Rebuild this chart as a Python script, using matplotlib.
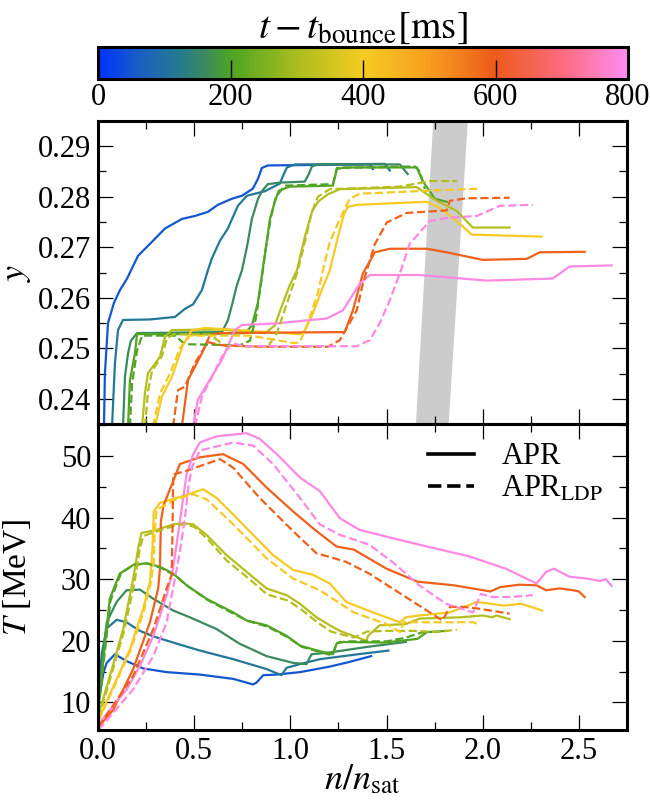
import numpy as np
import matplotlib
matplotlib.use("agg")
import matplotlib.pyplot as plt
from matplotlib.colors import LinearSegmentedColormap
from matplotlib.lines import Line2D
from matplotlib.ticker import MultipleLocator

plt.rcParams["font.family"] = "serif"
plt.rcParams["font.serif"] = ["Liberation Serif", "DejaVu Serif"]
plt.rcParams["mathtext.fontset"] = "stix"

# colormap for t - t_bounce [ms]
cmap_nodes = [0.0, 0.08, 0.15, 0.2, 0.25, 0.375, 0.5, 0.62, 0.75, 0.87, 1.0]
cmap_colors = ["#0033ff", "#1a60c0", "#257a90", "#3a8a60", "#4ea424",
               "#aabd1e", "#f5cc22", "#f7a020", "#ee5a1a", "#fb6a78",
               "#ff8cf0"]
t_max = 800.

# snapshot times [ms]
times = [50, 115, 160, 205, 315, 405, 590, 785]

# ---- top panel: y (APR, solid) ----
y_apr_050 = [(0.031, 0.2345), (0.036, 0.245), (0.052, 0.255), (0.083, 0.259),
             (0.114, 0.2615), (0.151, 0.2638), (0.208, 0.2683), (0.281, 0.2711),
             (0.348, 0.2737), (0.436, 0.2756), (0.504, 0.2762), (0.571, 0.277),
             (0.623, 0.2784), (0.696, 0.2796), (0.748, 0.2802), (0.805, 0.2816),
             (0.831, 0.2835), (0.852, 0.2857), (0.883, 0.2862), (1.413, 0.2864),
             (1.429, 0.2855)]
y_apr_115 = [(0.073, 0.2345), (0.088, 0.247), (0.104, 0.2536), (0.130, 0.2556),
             (0.270, 0.2557), (0.400, 0.2562), (0.452, 0.2578), (0.494, 0.2587),
             (0.540, 0.2615), (0.571, 0.2654), (0.592, 0.2678), (0.634, 0.2713),
             (0.675, 0.2737), (0.727, 0.2782), (0.774, 0.2802), (0.868, 0.2811),
             (0.945, 0.2826), (0.966, 0.2845), (0.982, 0.2858), (1.023, 0.2864),
             (1.491, 0.2865), (1.517, 0.2852)]
y_apr_160 = [(0.130, 0.2345), (0.140, 0.2443), (0.156, 0.249), (0.171, 0.2515),
             (0.203, 0.2530), (0.426, 0.2531), (0.644, 0.2532), (0.675, 0.2555),
             (0.696, 0.2585), (0.722, 0.2625), (0.748, 0.2654), (0.774, 0.2700),
             (0.800, 0.2756), (0.831, 0.2795), (0.852, 0.2811), (0.883, 0.2825),
             (0.945, 0.2828), (1.075, 0.2830), (1.096, 0.2845), (1.112, 0.2860),
             (1.143, 0.2864), (1.569, 0.2864), (1.610, 0.2845)]
y_apr_205 = [(0.156, 0.2345), (0.166, 0.2437), (0.192, 0.249), (0.203, 0.2528),
             (0.530, 0.2528), (0.764, 0.2530), (0.800, 0.2545), (0.831, 0.259),
             (0.852, 0.2645), (0.873, 0.2700), (0.894, 0.2756), (0.919, 0.2790),
             (0.940, 0.2812), (0.997, 0.2820), (1.221, 0.2822), (1.242, 0.2855),
             (1.283, 0.2858), (1.657, 0.2858), (1.688, 0.2831), (1.751, 0.2796),
             (1.813, 0.2790)]
y_apr_315 = [(0.229, 0.2345), (0.244, 0.2411), (0.260, 0.2451), (0.322, 0.2483),
             (0.348, 0.2522), (0.384, 0.2536), (0.634, 0.2537), (0.868, 0.2530),
             (0.919, 0.2545), (0.961, 0.2589), (0.997, 0.2625), (1.034, 0.2654),
             (1.075, 0.2720), (1.112, 0.2770), (1.143, 0.2790), (1.195, 0.2805),
             (1.257, 0.2815), (1.657, 0.2819), (1.761, 0.2792), (1.865, 0.2772),
             (1.948, 0.2739), (2.140, 0.2739)]
y_apr_405 = [(0.296, 0.2345), (0.332, 0.2404), (0.384, 0.2443), (0.441, 0.2506),
             (0.488, 0.2536), (0.556, 0.2540), (0.660, 0.2538), (0.842, 0.2533),
             (1.050, 0.2528), (1.075, 0.2535), (1.117, 0.2569), (1.169, 0.2621),
             (1.205, 0.2654), (1.247, 0.2720), (1.278, 0.2765), (1.299, 0.2780),
             (1.346, 0.2784), (1.709, 0.2790), (1.777, 0.2778), (1.855, 0.2755),
             (1.943, 0.2725), (2.306, 0.2721)]
y_apr_590 = [(0.436, 0.2345), (0.468, 0.2437), (0.540, 0.2490), (0.582, 0.2526),
             (0.634, 0.2530), (1.283, 0.2532), (1.325, 0.2575), (1.377, 0.2648),
             (1.439, 0.2690), (1.517, 0.2697), (1.709, 0.2697), (1.813, 0.2690),
             (2.000, 0.2675), (2.229, 0.2677), (2.296, 0.2690), (2.530, 0.2691)]
y_apr_785 = [(0.494, 0.2345), (0.519, 0.2398), (0.571, 0.2431), (0.644, 0.2477),
             (0.712, 0.2536), (0.748, 0.2546), (0.919, 0.2549), (1.190, 0.2559),
             (1.273, 0.2575), (1.361, 0.2628), (1.413, 0.2645), (1.673, 0.2645),
             (2.021, 0.2634), (2.364, 0.2638), (2.452, 0.2662), (2.670, 0.2664)]

# ---- top panel: y (APR_LDP, dashed) ----
y_ldp_205 = [(0.166, 0.2345), (0.177, 0.243), (0.203, 0.2495), (0.229, 0.2525),
             (0.400, 0.2525), (0.452, 0.2508), (0.738, 0.2506), (0.790, 0.2515),
             (0.821, 0.2560), (0.852, 0.2640), (0.873, 0.2700), (0.899, 0.2760),
             (0.925, 0.2800), (0.971, 0.2822), (1.221, 0.2825), (1.242, 0.2857),
             (1.647, 0.2860), (1.673, 0.2850), (1.699, 0.2815)]
y_ldp_315 = [(0.244, 0.2345), (0.260, 0.2415), (0.281, 0.2455), (0.333, 0.2485),
             (0.359, 0.2520), (0.395, 0.2528), (0.582, 0.2527), (0.660, 0.2505),
             (0.883, 0.2503), (0.930, 0.2530), (0.982, 0.2589), (1.039, 0.2654),
             (1.075, 0.2710), (1.112, 0.2770), (1.143, 0.2800), (1.205, 0.2815),
             (1.569, 0.2820), (1.725, 0.2831), (1.865, 0.2831)]
y_ldp_405 = [(0.286, 0.2345), (0.322, 0.2410), (0.374, 0.2450), (0.426, 0.2500),
             (0.478, 0.2525), (0.790, 0.2525), (1.023, 0.2510), (1.049, 0.2512),
             (1.091, 0.2550), (1.143, 0.2609), (1.169, 0.2654), (1.205, 0.2710),
             (1.257, 0.2756), (1.309, 0.2796), (1.361, 0.2806), (1.657, 0.2811),
             (1.974, 0.2816)]
y_ldp_590 = [(0.390, 0.2345), (0.416, 0.2417), (0.452, 0.2424), (0.504, 0.2471),
             (0.571, 0.2512), (0.644, 0.2506), (0.842, 0.2503), (1.195, 0.2503),
             (1.257, 0.2516), (1.345, 0.2575), (1.377, 0.2628), (1.439, 0.2706),
             (1.501, 0.2749), (1.605, 0.2768), (1.813, 0.2773), (1.829, 0.2792),
             (1.917, 0.2797), (2.140, 0.2798)]
y_ldp_785 = [(0.504, 0.2345), (0.540, 0.2404), (0.592, 0.2443), (0.644, 0.2483),
             (0.696, 0.2510), (0.764, 0.2504), (1.345, 0.2504), (1.413, 0.2516),
             (1.465, 0.2550), (1.517, 0.2595), (1.569, 0.2648), (1.621, 0.2707),
             (1.725, 0.2752), (1.813, 0.2758), (1.969, 0.2762), (2.088, 0.2782),
             (2.260, 0.2784)]

# ---- bottom panel: T [MeV] (APR, solid) ----
T_apr_050 = [(0.005, 10.4), (0.028, 14.8), (0.045, 16.4), (0.088, 17.8),
             (0.148, 16.7), (0.235, 15.5), (0.357, 14.9), (0.53, 14.5),
             (0.703, 13.8), (0.806, 12.9), (0.824, 13.2), (0.859, 14.4),
             (0.928, 14.5), (1.05, 14.9), (1.205, 15.8), (1.3, 16.5), (1.42, 17.5)]
T_apr_115 = [(0.003, 12), (0.02, 18), (0.045, 22.0), (0.097, 23.4),
             (0.148, 23.0), (0.218, 21.6), (0.288, 20.7), (0.391, 19.7),
             (0.53, 18.4), (0.703, 17.0), (0.876, 15.4), (0.954, 14.4),
             (0.98, 15.6), (1.05, 16.2), (1.153, 17.0), (1.35, 17.8), (1.51, 18.4)]
T_apr_160 = [(0.003, 11), (0.045, 23), (0.097, 26.3), (0.148, 28.2),
             (0.218, 28.3), (0.288, 26.8), (0.391, 24.9), (0.478, 23.8),
             (0.616, 21.9), (0.737, 19.5), (0.876, 17.5), (1.014, 16.4),
             (1.084, 16.2), (1.11, 17.8), (1.205, 18.1), (1.4, 19.0), (1.60, 19.8)]
T_apr_205 = [(0.003, 9.5), (0.061, 26.8), (0.113, 30.9), (0.183, 32.3),
             (0.252, 32.6), (0.322, 32.0), (0.391, 30.9), (0.461, 29.0),
             (0.564, 26.8), (0.703, 24.6), (0.772, 23.3), (0.876, 22.5),
             (0.98, 20.8), (1.05, 19.2), (1.153, 18.3), (1.22, 17.8),
             (1.24, 19.5), (1.257, 19.8), (1.49, 19.7), (1.66, 20.3),
             (1.71, 21.4), (1.81, 21.6)]
T_apr_315 = [(0.003, 8), (0.062, 14.3), (0.131, 21.9), (0.183, 30.1),
             (0.209, 35.0), (0.226, 37.5), (0.304, 38.0), (0.391, 38.9),
             (0.443, 39.1), (0.495, 38.9), (0.564, 37.2), (0.668, 33.9),
             (0.772, 31.2), (0.876, 28.5), (0.98, 27.4), (1.05, 26.0),
             (1.136, 23.8), (1.205, 22.5), (1.257, 21.6), (1.395, 20.0),
             (1.404, 20.8), (1.464, 22.5), (1.60, 22.7), (1.672, 23.6),
             (1.88, 23.8), (2.0, 24.1), (2.05, 23.8), (2.07, 24.1), (2.14, 23.5)]
T_apr_405 = [(0.003, 7.2), (0.08, 12.6), (0.166, 18.6), (0.235, 25.2),
             (0.27, 29.6), (0.283, 35), (0.29, 41), (0.322, 42.4),
             (0.443, 43.5), (0.547, 44.6), (0.616, 43.2), (0.703, 40.5),
             (0.806, 37.2), (0.91, 33.9), (1.014, 31.5), (1.118, 30.7),
             (1.205, 29.3), (1.29, 26.3), (1.43, 24.6), (1.57, 23.0),
             (1.60, 23.8), (1.67, 24.1), (1.83, 24.6), (1.97, 26.3),
             (2.11, 25.7), (2.20, 26.0), (2.31, 24.9)]
T_apr_590 = [(0.003, 6), (0.08, 8.8), (0.183, 15.4), (0.27, 23),
             (0.313, 28.5), (0.322, 31.7), (0.327, 39.4), (0.34, 41.9),
             (0.426, 48.7), (0.53, 49.8), (0.65, 50.3), (0.755, 48.7),
             (0.876, 44.9), (1.014, 41.0), (1.136, 37.8), (1.24, 35.3),
             (1.33, 34.8), (1.5, 31.7), (1.66, 29.6), (1.85, 29.0),
             (2.04, 28.0), (2.09, 28.7), (2.19, 29.1), (2.28, 29.0),
             (2.33, 28.2), (2.40, 28.5), (2.47, 28.2), (2.50, 28.0), (2.53, 27.1)]
T_apr_785 = [(0.005, 6.5), (0.062, 8.8), (0.15, 12.1), (0.218, 15.9),
             (0.288, 20.8), (0.357, 27.4), (0.39, 31.7), (0.426, 39.4),
             (0.46, 47), (0.495, 50.3), (0.53, 52.2), (0.616, 53.2),
             (0.772, 53.7), (0.84, 52.8), (0.93, 50.3), (1.05, 46.5),
             (1.153, 44.3), (1.257, 39.9), (1.36, 38.0), (1.5, 36.9),
             (1.67, 35.6), (1.93, 33.7), (2.12, 31.7), (2.28, 29.3),
             (2.33, 31.2), (2.37, 31.7), (2.45, 30.4), (2.54, 30.1),
             (2.61, 29.7), (2.64, 30.0), (2.67, 28.9)]

# ---- bottom panel: T [MeV] (APR_LDP, dashed) ----
T_ldp_205 = [(0.003, 9.0), (0.065, 26.5), (0.12, 31.0), (0.19, 32.4),
             (0.26, 32.5), (0.33, 31.8), (0.40, 30.6), (0.47, 28.8),
             (0.57, 26.6), (0.71, 24.3), (0.78, 23.2), (0.88, 22.3),
             (0.99, 20.5), (1.06, 19.0), (1.16, 18.1), (1.22, 17.6),
             (1.24, 19.6), (1.30, 19.9), (1.50, 19.9), (1.60, 20.5), (1.70, 21.5)]
T_ldp_315 = [(0.003, 7.5), (0.065, 14.0), (0.135, 21.5), (0.19, 29.5),
             (0.215, 34.5), (0.235, 37.0), (0.31, 37.8), (0.40, 38.7),
             (0.45, 38.9), (0.50, 38.5), (0.57, 36.5), (0.67, 33.0),
             (0.78, 30.2), (0.88, 27.5), (0.99, 26.5), (1.06, 25.0),
             (1.14, 23.0), (1.21, 21.5), (1.33, 20.5), (1.40, 21.5),
             (1.50, 21.6), (1.65, 21.6), (1.76, 21.4), (1.865, 21.8)]
T_ldp_405 = [(0.003, 7), (0.08, 12.3), (0.17, 18.5), (0.24, 25),
             (0.275, 29.5), (0.29, 32.8), (0.295, 37.8), (0.305, 41.3),
             (0.409, 43.0), (0.495, 43.8), (0.564, 43.0), (0.703, 38.9),
             (0.876, 33.4), (1.014, 30.1), (1.153, 28.2), (1.33, 24.6),
             (1.5, 22.7), (1.57, 21.4), (1.59, 23.0), (1.81, 23.0),
             (1.95, 23.0), (1.975, 22.7)]
T_ldp_590 = [(0.003, 6), (0.183, 14.3), (0.288, 21.9), (0.357, 28.5),
             (0.383, 30.7), (0.388, 39.4), (0.391, 47.0), (0.46, 47.6),
             (0.634, 49.5), (0.703, 48.1), (0.84, 43.2), (1.014, 37.8),
             (1.136, 34.2), (1.205, 33.6), (1.29, 32.8), (1.41, 30.9),
             (1.585, 27.4), (1.79, 23.3), (1.83, 25.5), (1.90, 25.5),
             (1.98, 25.2), (2.14, 24.4)]
T_ldp_785 = [(0.003, 5.5), (0.183, 12.1), (0.288, 17.5), (0.357, 23),
             (0.39, 28.5), (0.426, 34.5), (0.452, 40), (0.47, 44.9),
             (0.487, 48.1), (0.53, 50.9), (0.703, 52.2), (0.806, 51.7),
             (0.91, 48.7), (1.05, 43.2), (1.153, 38.9), (1.257, 37.2),
             (1.41, 35.6), (1.53, 32.8), (1.67, 29.0), (1.81, 26.0),
             (1.95, 24.6), (1.99, 27.6), (2.05, 27.1), (2.15, 27.1), (2.26, 27.4)]

y_apr = [y_apr_050, y_apr_115, y_apr_160, y_apr_205,
         y_apr_315, y_apr_405, y_apr_590, y_apr_785]
y_ldp = {205: y_ldp_205, 315: y_ldp_315, 405: y_ldp_405,
         590: y_ldp_590, 785: y_ldp_785}
T_apr = [T_apr_050, T_apr_115, T_apr_160, T_apr_205,
         T_apr_315, T_apr_405, T_apr_590, T_apr_785]
T_ldp = {205: T_ldp_205, 315: T_ldp_315, 405: T_ldp_405,
         590: T_ldp_590, 785: T_ldp_785}

# grey band in the y panel (x at bottom / top of the axis)
band_x_low = (1.65, 1.82)
band_x_high = (1.74, 1.92)

cmap = LinearSegmentedColormap.from_list(
    "tbounce", list(zip(cmap_nodes, cmap_colors)))

W, H = 650., 801.
fig = plt.figure(figsize=(W / 100, H / 100), dpi=100)
cax = fig.add_axes([98 / W, 1 - 79 / H, 530 / W, 32 / H])
ax1 = fig.add_axes([98 / W, 1 - 424 / H, 529 / W, 303 / H])
ax2 = fig.add_axes([98 / W, 1 - 730 / H, 529 / W, 306 / H], sharex=ax1)

lw = 1.6
for t, pts in zip(times, y_apr):
    x, y = np.array(pts).T
    ax1.plot(x, y, color=cmap(t / t_max), lw=lw)
for t, pts in y_ldp.items():
    x, y = np.array(pts).T
    ax1.plot(x, y, color=cmap(t / t_max), lw=lw, ls="--")
for t, pts in zip(times, T_apr):
    x, y = np.array(pts).T
    ax2.plot(x, y, color=cmap(t / t_max), lw=lw)
for t, pts in T_ldp.items():
    x, y = np.array(pts).T
    ax2.plot(x, y, color=cmap(t / t_max), lw=lw, ls="--")

# grey band
ylo, yhi = 0.235, 0.295
ax1.fill_betweenx([ylo, yhi], [band_x_low[0], band_x_high[0]],
                  [band_x_low[1], band_x_high[1]], color="#cccccc",
                  lw=0, zorder=0)

ax1.set_xlim(0, 2.75)
ax1.set_ylim(ylo, yhi)
ax2.set_ylim(5.5, 55.2)

ax1.yaxis.set_major_locator(MultipleLocator(0.01))
ax1.yaxis.set_minor_locator(MultipleLocator(0.005))
ax2.yaxis.set_major_locator(MultipleLocator(10))
ax2.yaxis.set_minor_locator(MultipleLocator(5))
ax2.xaxis.set_major_locator(MultipleLocator(0.5))
ax2.xaxis.set_minor_locator(MultipleLocator(0.25))
ax1.yaxis.set_major_formatter(plt.FormatStrFormatter("%.2f"))
ax2.xaxis.set_major_formatter(plt.FormatStrFormatter("%.1f"))

fs = 22
for axi in [ax1, ax2]:
    axi.tick_params(which="both", direction="in", top=True, right=True,
                    labelsize=fs, pad=5)
    axi.tick_params(which="major", length=11, width=0.9)
    axi.tick_params(which="minor", length=6, width=0.9)
    for s in axi.spines.values():
        s.set_linewidth(2.2)
ax1.tick_params(labelbottom=False)

ax1.set_ylabel(r"$y$", fontsize=fs + 4)
ax2.set_ylabel(r"$T$ [MeV]", fontsize=fs + 2)
ax1.yaxis.set_label_coords(-0.122, 0.5)
ax2.yaxis.set_label_coords(-0.122, 0.5)
ax2.set_xlabel(r"$n/n_{\rm sat}$", fontsize=fs + 4, labelpad=-2)

handles = [Line2D([], [], color="k", lw=2.6, ls="-"),
           Line2D([], [], color="k", lw=2.6, ls="--")]
ax2.legend(handles, ["APR", r"APR$_{\rm LDP}$"], loc="upper right",
           frameon=False, fontsize=fs, handlelength=1.5, handletextpad=0.9,
           borderaxespad=0.2, labelspacing=0.1, bbox_to_anchor=(0.99, 1.0))

# colourbar
sm = plt.cm.ScalarMappable(cmap=cmap, norm=plt.Normalize(0, t_max))
cb = fig.colorbar(sm, cax=cax, orientation="horizontal",
                  ticks=[0, 200, 400, 600, 800])
cb.outline.set_linewidth(2.2)
cax.tick_params(direction="in", length=14, width=1.0, labelsize=fs,
                bottom=True, top=False, pad=3)
cax.set_title(r"$t - t_{\rm bounce}[\rm ms]$", fontsize=fs + 6, pad=3)

fig.savefig("out.png", dpi=100)
